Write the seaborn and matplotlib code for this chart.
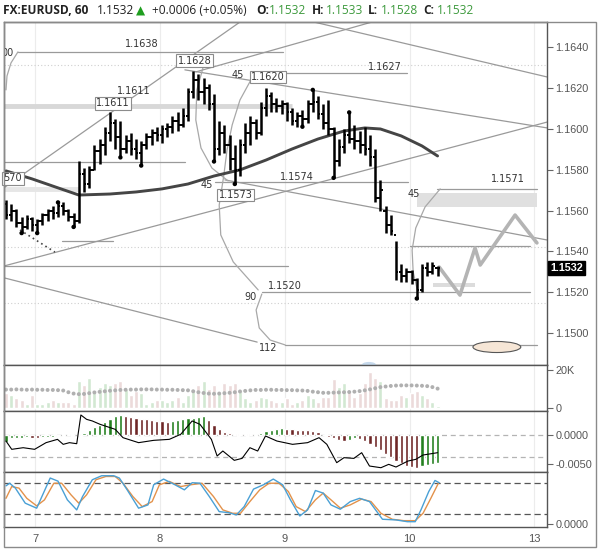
import numpy as np
import pandas as pd
import seaborn as sns
import matplotlib.pyplot as plt
from matplotlib.patches import Ellipse, Rectangle
from matplotlib.transforms import blended_transform_factory

# EURUSD 60 min bars, numbered 0..83 (Aug 7 early -> Aug 10 midday)
opens = [1.1563, 1.1558, 1.1560, 1.1554, 1.1552, 1.1556, 1.1553, 1.1555, 1.1558, 1.1560,
         1.1559, 1.1562, 1.1560, 1.1557, 1.1555, 1.1578, 1.1573, 1.1580, 1.1589, 1.1592,
         1.1598, 1.1603, 1.1596, 1.1590, 1.1594, 1.1590, 1.1588, 1.1592, 1.1596, 1.1598,
         1.1597, 1.1600, 1.1601, 1.1604, 1.1602, 1.1606, 1.1618, 1.1624, 1.1618, 1.1620,
         1.1612, 1.1590, 1.1598, 1.1592, 1.1585, 1.1580, 1.1592, 1.1598, 1.1603, 1.1598,
         1.1610, 1.1616, 1.1612, 1.1611, 1.1612, 1.1608, 1.1604, 1.1606, 1.1605, 1.1612,
         1.1613, 1.1607, 1.1603, 1.1600, 1.1584, 1.1591, 1.1597, 1.1595, 1.1594, 1.1592,
         1.1590, 1.1586, 1.1566, 1.1560, 1.1553, 1.1548, 1.1530, 1.1528, 1.1530, 1.1526,
         1.1521, 1.1532, 1.1530, 1.1532]
highs = [1.1565, 1.1563, 1.1561, 1.1557, 1.1558, 1.1557, 1.1556, 1.1559, 1.1561, 1.1562,
         1.1564, 1.1564, 1.1561, 1.1559, 1.1584, 1.1581, 1.1582, 1.1592, 1.1595, 1.1601,
         1.1608, 1.1605, 1.1604, 1.1597, 1.1598, 1.1595, 1.1594, 1.1598, 1.1600, 1.1601,
         1.1602, 1.1603, 1.1606, 1.1608, 1.1610, 1.1620, 1.1628, 1.1627, 1.1625, 1.1622,
         1.1617, 1.1604, 1.1602, 1.1597, 1.1592, 1.1595, 1.1603, 1.1606, 1.1605, 1.1613,
         1.1620, 1.1618, 1.1615, 1.1614, 1.1613, 1.1610, 1.1608, 1.1609, 1.1614, 1.1619,
         1.1616, 1.1612, 1.1614, 1.1601, 1.1595, 1.1600, 1.1608, 1.1602, 1.1599, 1.1601,
         1.1597, 1.1590, 1.1575, 1.1562, 1.1558, 1.1545, 1.1534, 1.1532, 1.1531, 1.1527,
         1.1534, 1.1535, 1.1535, 1.1533]
lows = [1.1556, 1.1555, 1.1552, 1.1549, 1.1551, 1.1550, 1.1549, 1.1553, 1.1555, 1.1556,
        1.1557, 1.1558, 1.1555, 1.1552, 1.1554, 1.1569, 1.1571, 1.1580, 1.1583, 1.1587,
        1.1594, 1.1590, 1.1586, 1.1588, 1.1587, 1.1585, 1.1582, 1.1590, 1.1592, 1.1594,
        1.1593, 1.1596, 1.1598, 1.1599, 1.1601, 1.1604, 1.1615, 1.1614, 1.1612, 1.1609,
        1.1584, 1.1587, 1.1588, 1.1580, 1.1573, 1.1577, 1.1588, 1.1592, 1.1595, 1.1597,
        1.1606, 1.1608, 1.1608, 1.1607, 1.1604, 1.1602, 1.1601, 1.1601, 1.1603, 1.1608,
        1.1605, 1.1600, 1.1597, 1.1576, 1.1582, 1.1588, 1.1593, 1.1590, 1.1588, 1.1587,
        1.1582, 1.1564, 1.1560, 1.1549, 1.1548, 1.1526, 1.1525, 1.1525, 1.1524, 1.1517,
        1.1520, 1.1528, 1.1529, 1.1528]
closes = [1.1558, 1.1560, 1.1554, 1.1552, 1.1556, 1.1553, 1.1555, 1.1558, 1.1560, 1.1559,
          1.1562, 1.1560, 1.1557, 1.1555, 1.1578, 1.1573, 1.1580, 1.1589, 1.1592, 1.1598,
          1.1603, 1.1596, 1.1590, 1.1594, 1.1590, 1.1588, 1.1592, 1.1596, 1.1598, 1.1597,
          1.1600, 1.1601, 1.1604, 1.1602, 1.1606, 1.1618, 1.1624, 1.1618, 1.1620, 1.1612,
          1.1590, 1.1598, 1.1592, 1.1585, 1.1580, 1.1592, 1.1598, 1.1603, 1.1598, 1.1610,
          1.1616, 1.1612, 1.1611, 1.1612, 1.1608, 1.1604, 1.1606, 1.1605, 1.1612, 1.1613,
          1.1607, 1.1603, 1.1600, 1.1584, 1.1591, 1.1597, 1.1595, 1.1594, 1.1592, 1.1590,
          1.1586, 1.1566, 1.1570, 1.1553, 1.1550, 1.1530, 1.1528, 1.1530, 1.1526, 1.1521,
          1.1532, 1.1530, 1.1533, 1.1532]

# moving average read at a few bars
ma_bars = [0, 5, 10, 14, 20, 25, 30, 35, 40, 45, 50, 55, 60, 65, 69, 72, 76, 80, 83]
ma_vals = [1.15794, 1.15755, 1.15711, 1.15676, 1.15681, 1.15691, 1.15706, 1.15730, 1.15769,
           1.15799, 1.15847, 1.15901, 1.15950, 1.15989, 1.16004, 1.15999, 1.15965, 1.15916, 1.15867]

pivot_hi = [10, 59, 66]
pivot_lo = [3, 6, 13, 22, 26, 40, 44, 57, 63, 79]

# volume in thousands
volume_k = [8, 7, 5, 4, 2, 7, 2, 2, 3, 4, 3, 3, 3, 2,
            14, 12, 16, 9, 11, 13, 12, 13, 14, 10, 7, 9,
            8, 2, 3, 4, 4, 3, 4, 6, 3, 7, 9, 12,
            14, 10, 12, 8, 13, 12, 13, 9, 5, 3, 4, 6,
            5, 4, 3, 3, 5, 2, 3, 4, 7, 5, 3, 6,
            6, 15, 11, 13, 9, 6, 8, 13, 19, 16, 14, 5, 4, 4, 7, 6, 8, 9, 7, 5, 3, 1]
volume_ma_k = [9.7, 9.7, 9.8, 9.7, 9.6, 9.7, 9.6, 9.6, 9.5, 9.5, 9.4,
               9.2, 8.3, 7.6, 7.3, 7.4, 7.8, 8.2, 8.5, 8.8, 9.1, 9.3,
               9.5, 9.6, 9.7, 9.7, 9.8, 9.8, 9.8, 9.7, 9.7, 9.6, 9.6, 9.5, 9.4,
               9.3, 8.8, 8.3, 7.9, 7.6, 7.5, 7.6, 7.8, 8.0, 8.3, 8.7, 9.0, 9.3,
               9.5, 9.5, 9.6, 9.6, 9.5, 9.5, 9.4, 9.4, 9.3,
               9.2, 9.0, 8.6, 8.3, 8.0, 8.0, 8.1, 8.2, 8.3, 8.4, 8.6, 8.9,
               9.3, 9.8, 10.4, 11.0, 11.3, 11.6, 11.8, 11.9, 11.9, 11.9, 11.8, 11.7, 11.5, 11.0, 10.2]

macd_hist = [-0.0012, -0.0006, -0.0005, -0.0005, -0.0004, -0.0005, -0.0006, -0.0004, -0.0003, -0.0003,
             -0.0002, -0.0001, 0.0001, 0.0000,
             0.0002, 0.0004, 0.0008, 0.0013, 0.0018, 0.0023, 0.0028, 0.0032, 0.0034,
             0.0033, 0.0031, 0.0029, 0.0028, 0.0027, 0.0026, 0.0025, 0.0024, 0.0023,
             0.0024, 0.0026, 0.0027, 0.0029, 0.0030, 0.0031, 0.0032,
             0.0026, 0.0018, 0.0010, 0.0005, 0.0003, 0.00025, 0.0002, 0.00015, 0.0001,
             0.0002, 0.0004, 0.0007, 0.0009, 0.0011, 0.0012,
             0.0011, 0.0010, 0.0009, 0.00085, 0.0008, 0.0007, 0.0006, 0.0,
             -0.0003, -0.0006, -0.0008, -0.0010, -0.0008, -0.0006, -0.0007, -0.0010,
             -0.0015, -0.0020, -0.0026, -0.0032, -0.0038, -0.0044, -0.0049, -0.0053, -0.0056, -0.0057,
             -0.0054, -0.0052, -0.0050, -0.0048]
line_bars = [0, 1.1, 3.3, 5.5, 7.7, 9.9, 11.0, 12.2, 13.6, 14.4, 15.5, 16.6, 18.1, 21.0, 22.5,
             25.5, 28.4, 31.4, 33.6, 35.8, 37.3, 39.5, 40.6, 41.7, 43.9, 45.4, 46.9, 48.4, 49.9,
             52.1, 55.1, 58.0, 60.2, 61.7, 63.6, 65.0, 66.9, 68.4, 69.9, 72.1, 73.6, 75.0, 77.3,
             78.8, 80.2, 83.0]
line_vals = [-0.00104, -0.00247, -0.00219, -0.00247, -0.00132, -0.00075, -0.00161, -0.00132,
             -0.00150, 0.00345, 0.00270, 0.00242, 0.00184, 0.00098, -0.00046, -0.00132, -0.00092,
             -0.00075, 0.00012, 0.00242, 0.00184, -0.00075, -0.00362, -0.00276, -0.00437, -0.00403,
             -0.00219, -0.00276, -0.00017, -0.00104, -0.00161, -0.00132, -0.00046, -0.00161,
             -0.00477, -0.00391, -0.00403, -0.00305, -0.00535, -0.00564, -0.00506, -0.00552,
             -0.00449, -0.00420, -0.00345, -0.00305]

stoch_k_bars = [0, 0.7, 1.8, 3.7, 5.9, 8.5, 10.0, 11.8, 13.6, 14.7, 16.6, 18.4, 20.7, 21.8, 23.3,
                25.5, 27.3, 28.4, 30.3, 32.5, 34.3, 35.8, 37.3, 39.1, 41.0, 42.8, 44.3, 45.8, 47.6,
                49.5, 51.4, 53.2, 54.7, 56.5, 58.0, 59.5, 61.0, 62.5, 64.3, 66.2, 68.0, 69.9, 72.4,
                75.0, 77.2, 78.7, 79.8, 81.3, 82.5, 83.3]
stoch_k = [74, 79, 69.6, 40.6, 31, 89, 83, 47, 27.7, 53, 85.7, 93.4, 93.4, 89, 66.3,
           31, 37.3, 76, 87, 76, 66.3, 80, 79, 53.4, 24.4, 22.4, 18, 34, 67.7,
           76, 87, 76, 47, 16, 27.7, 65, 60, 37.3, 29, 43.7, 50, 43.7, 9.7,
           8.4, 5, 5, 27.7, 63, 84.3, 80]
stoch_d_bars = [0, 1.1, 2.5, 4.0, 5.9, 7.4, 9.2, 10.7, 12.5, 14.0, 15.5, 17.3, 19.2, 21.0, 22.5,
                24.4, 26.2, 28.1, 29.5, 31.4, 33.6, 35.5, 37.7, 39.9, 41.7, 43.6, 45.1, 46.9, 48.8,
                50.6, 52.5, 54.3, 55.8, 57.6, 59.5, 61.0, 62.5, 64.3, 66.2, 68.4, 70.2, 72.1, 74.3,
                76.5, 78.7, 80.2, 81.7, 83.2]
stoch_d = [50, 72.6, 69.6, 50, 35.4, 47, 79, 79, 56.7, 40.6, 56.7, 85.7, 92, 92, 79,
           53.4, 34, 43.7, 76, 82.5, 72.6, 76, 79, 53.4, 27.7, 21.2, 21.2, 43.7, 66.3,
           79, 79, 63, 34, 24.4, 47, 60, 47, 31, 37.3, 48.5, 43.7, 21.2, 9.7,
           7, 7, 21.2, 50, 80]

day_labels = ['7', '8', '9', '10', '13']
price_ticks = [1.1500, 1.1520, 1.1540, 1.1560, 1.1580, 1.1600, 1.1620, 1.1640]

# drawing tools on the chart (bar number, price)
trend_lines = [((-0.4, 1.15329), (104.1, 1.16033)),
               ((-0.2, 1.15715), (45.0, 1.16522)),
               ((42.1, 1.15750), (104.1, 1.15456)),
               ((-0.2, 1.15270), (48.3, 1.14957)),
               ((34.4, 1.16288), (104.1, 1.16004)),
               ((59.2, 1.16522), (104.1, 1.16253)),
               ((36.5, 1.16278), (70.4, 1.16522))]
levels = [(1.16376, 2.3, 53.3), (1.15838, -0.4, 34.4), (1.16273, 46.9, 77.1),
          (1.15740, 40.2, 77.3), (1.15706, 82.9, 102.1), (1.15427, 77.7, 100.8),
          (1.15329, -0.4, 54.2), (1.15202, 49.2, 100.8), (1.14943, 53.7, 102.1),
          (1.15451, 10.8, 20.6)]
bands = [(1.16111, -0.4, 55.0, '#d8d8d8'), (1.15705, -0.4, 14.0, '#e6e6e6')]
dotted_levels = [1.16312, 1.15422, 1.15148]
arcs = [([2.3, 0.96, 0.19, 0.0], [1.16376, 1.16322, 1.16258, 1.16190]),
        ([38.3, 36.7, 36.5, 37.5, 39.6, 42.7], [1.16336, 1.16190, 1.16043, 1.15906, 1.15808, 1.15745]),
        ([47.3, 45.0, 43.5, 42.5, 41.9, 41.0, 41.3, 43.7, 48.5],
         [1.16248, 1.16141, 1.16019, 1.15896, 1.15774, 1.15627, 1.15481, 1.15349, 1.15212]),
        ([49.2, 48.1, 48.7, 50.8, 53.7], [1.15192, 1.15114, 1.15026, 1.14967, 1.14943]),
        ([83.5, 80.6, 78.8, 78.1, 78.3, 79.2], [1.15706, 1.15618, 1.15515, 1.15407, 1.15300, 1.15202])]
path_bars = [83.3, 87.3, 90.2, 91.2, 97.9, 102.1]
path_prices = [1.15324, 1.15187, 1.15417, 1.15334, 1.15578, 1.15442]
texts = [(26.2, 1.16415, '1.1638'), (24.6, 1.16186, '1.1611'), (72.9, 1.16302, '1.1627'),
         (56.0, 1.15764, '1.1574'), (96.5, 1.15754, '1.1571'), (53.7, 1.15231, '1.1520'),
         (44.6, 1.16263, '45'), (38.7, 1.15725, '45'), (78.5, 1.15681, '45'),
         (47.1, 1.15178, '90'), (50.4, 1.14928, '112')]
boxed = [(20.6, 1.16124, '1.1611'), (36.3, 1.16332, '1.1628'), (50.4, 1.16253, '1.1620'),
         (44.2, 1.15676, '1.1573'), (1.3, 1.15759, '570')]

sns.set_style('white')
plt.rcParams['font.family'] = ['DejaVu Sans']

W, H = 602, 550
fig = plt.figure(figsize=(W / 100, H / 100), dpi=100)


def panel(top, bottom):
    return fig.add_axes([4 / W, 1 - bottom / H, 543 / W, (bottom - top) / H])


ax_p = panel(22, 365)
ax_v = panel(365, 411)
ax_m = panel(411, 472)
ax_s = panel(472, 527)
axes = [ax_p, ax_v, ax_m, ax_s]

df = pd.DataFrame({'o': opens, 'h': highs, 'l': lows, 'c': closes,
                   'vol': np.array(volume_k) * 1000, 'vma': np.array(volume_ma_k) * 1000,
                   'macd_h': macd_hist})
df['x'] = np.arange(len(df))
df['up'] = df['c'] >= df['o']

day_pos = [5.6 + 24 * i for i in range(len(day_labels))]
xmin, xmax = -0.385, 104.04
line_c = '#9a9a9a'

for ax in axes:
    ax.set_xlim(xmin, xmax)
    for t in day_pos:
        ax.axvline(t, color='#ececec', lw=0.8, zorder=0)
    for s in ax.spines.values():
        s.set_color('#555555')
        s.set_linewidth(1.0)
    ax.yaxis.tick_right()
    ax.tick_params(axis='y', length=4, width=0.8, color='#666666', labelsize=7.8,
                   labelcolor='#555555', pad=2)
    ax.tick_params(axis='x', length=0)
    ax.set_xticks(day_pos)
    ax.set_xticklabels([])

# ---- price panel
ax_p.set_ylim(1.14845, 1.16522)
for lv in dotted_levels:
    ax_p.axhline(lv, color='#cfcfcf', lw=0.8, ls=(0, (1, 2)), zorder=0)
for p, k0, k1, col in bands:
    ax_p.plot([k0, k1], [p, p], color=col, lw=3.5, zorder=1, solid_capstyle='butt')
for p, k0, k1 in levels:
    ax_p.plot([k0, k1], [p, p], color=line_c, lw=0.9, zorder=2)
for (a, b) in trend_lines:
    ax_p.plot([a[0], b[0]], [a[1], b[1]], color=line_c, lw=0.9, zorder=2)
for ks, ps in arcs:
    ax_p.plot(ks, ps, color='#a8a8a8', lw=0.9, zorder=2)
ax_p.plot([2.7, 9.4], [1.15505, 1.15397], color='#444444', lw=1.2, ls=(0, (1, 2)), zorder=2)
ax_p.add_patch(Rectangle((79.0, 1.15618), 23.1, 0.00068, fc='#e0e0e0', ec='none', zorder=1))
ax_p.add_patch(Rectangle((82.1, 1.15226), 8.1, 0.0002, fc='#dcdcdc', ec='none', zorder=1))
ax_p.add_patch(Ellipse((94.4, 1.14933), 9.2, 0.00054, fc='#f6e6d6', ec='#555555', lw=0.8, zorder=3))
ax_p.add_patch(Ellipse((69.8, 1.14845), 2.8, 0.0003, fc='#c6d9ec', ec='none', zorder=3))

sns.lineplot(x=path_bars, y=path_prices, ax=ax_p, color='#b4b4b4', lw=2.6, sort=False,
             estimator=None, zorder=3)
sns.lineplot(x=ma_bars, y=ma_vals, ax=ax_p, color='#454545', lw=2.1, sort=False,
             estimator=None, zorder=4)

ax_p.vlines(df['x'], df['l'], df['h'], color='black', lw=1.8, zorder=5)
ax_p.hlines(df['o'], df['x'] - 0.45, df['x'], color='black', lw=1.4, zorder=5)
ax_p.hlines(df['c'], df['x'], df['x'] + 0.45, color='black', lw=1.4, zorder=5)
pts = pd.DataFrame({'x': pivot_hi + pivot_lo,
                    'y': [highs[i] for i in pivot_hi] + [lows[i] for i in pivot_lo]})
sns.scatterplot(data=pts, x='x', y='y', ax=ax_p, s=10, color='black', edgecolor='none', zorder=6)

for k, p, s in texts:
    ax_p.text(k, p, s, fontsize=7, color='#333333', ha='center', va='center', zorder=7)
for k, p, s in boxed:
    ax_p.text(k, p, s, fontsize=7, color='#333333', ha='center', va='center', zorder=7,
              bbox=dict(boxstyle='square,pad=0.15', fc='white', ec='#8c8c8c', lw=0.8))
ax_p.text(1.4, 1.16371, '00', fontsize=7, color='#333333', ha='right', va='center', clip_on=True)

ax_p.set_yticks(price_ticks)
ax_p.set_yticklabels([f'{t:.4f}' for t in price_ticks])
trans = blended_transform_factory(ax_p.transAxes, ax_p.transData)
ax_p.text(1.006, closes[-1], f'{closes[-1]:.4f}', transform=trans, color='white', fontsize=7.8,
          fontweight='bold', family='Liberation Sans', ha='left', va='center', clip_on=False,
          bbox=dict(boxstyle='square,pad=0.2', fc='black', ec='black'), zorder=10)

# ---- volume panel
ax_v.set_ylim(-1580, 22630)
vcol = np.where(df['up'], '#d2e8d2', '#ecdada')
ax_v.bar(df['x'], df['vol'], width=0.75, color=vcol, zorder=1)
sns.scatterplot(data=df, x='x', y='vma', ax=ax_v, s=8, color='#b0b0b0', edgecolor='none', zorder=2)
ax_v.set_yticks([0, 20000])
ax_v.set_yticklabels(['0', '20K'])

# ---- macd panel
ax_m.set_ylim(-0.00638, 0.00414)
ax_m.axhline(0, color='#b4b4b4', lw=0.9, ls=(0, (4, 3)), zorder=0)
ax_m.axhline(-0.0038, color='#b4b4b4', lw=0.9, ls=(0, (4, 3)), zorder=0)
rising = df['macd_h'].diff().fillna(1) >= 0
hcol = np.where(rising, '#23801f', '#6e2626')
ax_m.bar(df['x'], df['macd_h'], width=0.6, color=hcol, zorder=2)
sns.lineplot(x=line_bars, y=line_vals, ax=ax_m, color='black', lw=0.8, sort=False,
             estimator=None, zorder=3)
ax_m.set_yticks([0, -0.005])
ax_m.set_yticklabels(['0.0000', '-0.0050'])

# ---- stochastic panel
ax_s.set_ylim(-5.2, 100.6)
ax_s.axhline(80, color='#555555', lw=0.9, ls=(0, (5, 3)), zorder=0)
ax_s.axhline(20, color='#555555', lw=0.9, ls=(0, (5, 3)), zorder=0)
sns.lineplot(x=stoch_d_bars, y=stoch_d, ax=ax_s, color='#e3924b', lw=1.0, sort=False,
             estimator=None, zorder=2)
sns.lineplot(x=stoch_k_bars, y=stoch_k, ax=ax_s, color='#4aa0d5', lw=1.0, sort=False,
             estimator=None, zorder=3)
ax_s.set_yticks([0])
ax_s.set_yticklabels(['0.0000'])
ax_s.set_xticklabels(day_labels)
ax_s.tick_params(axis='x', labelsize=8, labelcolor='#555555', pad=5)

for ax in axes:
    ax.set_xlabel('')
    ax.set_ylabel('')
    for lbl in ax.get_yticklabels() + ax.get_xticklabels():
        lbl.set_family('Liberation Sans')

fig.add_artist(Rectangle((4 / W, 1 - 547 / H), 592 / W, 525 / H, transform=fig.transFigure,
                         fill=False, ec='#8a8a8a', lw=1.0))

# header line
green = '#3d9a3d'


def head(x, s, color='#222222', weight='normal'):
    fig.text(x / W, 1 - 11 / H, s, color=color, fontsize=8.6, fontweight=weight,
             family=['Open Sans', 'DejaVu Sans'], ha='left', va='center')


head(3, 'FX:EURUSD, 60', weight='bold')
head(97, '1.1532')
head(136, '▲', color='#1f9e1f')
head(152, '+0.0006 (+0.05%)')
head(256, 'O:', weight='bold')
head(269, '1.1532', color=green)
head(312, 'H:', weight='bold')
head(326, '1.1533', color=green)
head(368, 'L:', weight='bold')
head(381, '1.1528', color=green)
head(423, 'C:', weight='bold')
head(437, '1.1532', color=green)

fig.savefig('out.png', dpi=100)
